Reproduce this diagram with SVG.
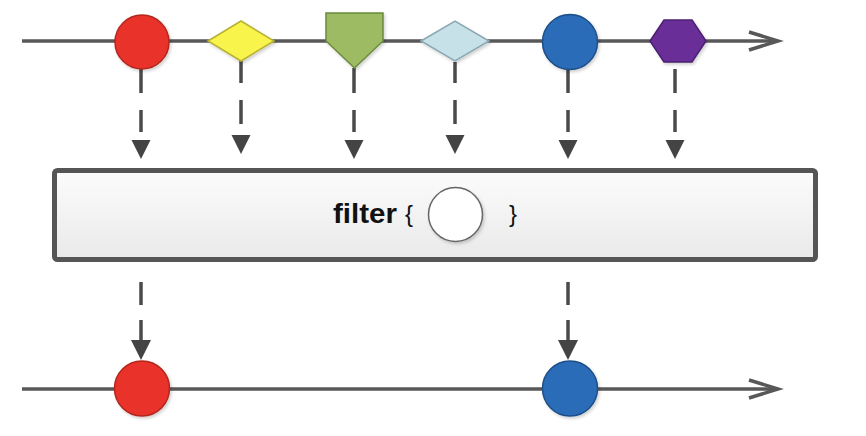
<svg xmlns="http://www.w3.org/2000/svg" width="866" height="436" viewBox="0 0 866 436">
  <defs>
    <linearGradient id="boxFill" x1="0" y1="0" x2="0" y2="1">
      <stop offset="0" stop-color="#fcfcfc"/>
      <stop offset="1" stop-color="#e9e9e9"/>
    </linearGradient>
    <filter id="shadow" x="-20%" y="-20%" width="150%" height="150%">
      <feDropShadow dx="1.5" dy="2" stdDeviation="1.5" flood-color="#000" flood-opacity="0.18"/>
    </filter>
  </defs>
  <style>
    .timeline { stroke: #585858; stroke-width: 3.5; fill: none; }
    .chev { stroke: #585858; stroke-width: 3.5; fill: none; stroke-linejoin: miter; }
    .dash { stroke: #4a4a4a; stroke-width: 3.5; fill: none; }
    .head { fill: #444; }
    .lbl { font-family: "Liberation Sans", Arial, sans-serif; fill: #111; }
  </style>
  <rect width="866" height="436" fill="#ffffff"/>

  <g id="connectors">
    <!-- top timeline -->
    <line class="timeline" x1="22" y1="41" x2="778" y2="41"/>
    <polyline class="chev" points="749,32 778,41 749,50"/>
    <!-- bottom timeline -->
    <line class="timeline" x1="22" y1="389" x2="778" y2="389"/>
    <polyline class="chev" points="749,380 778,389 749,398"/>

    <!-- top dashed arrows -->
    <line class="dash" x1="141" y1="69" x2="141" y2="93"/>
    <line class="dash" x1="141" y1="110" x2="141" y2="132"/>
    <polygon class="head" points="131.5,140 150.5,140 141,159"/>

    <line class="dash" x1="241" y1="61" x2="241" y2="83"/>
    <line class="dash" x1="241" y1="100" x2="241" y2="124"/>
    <polygon class="head" points="231.5,135 250.5,135 241,154"/>

    <line class="dash" x1="354" y1="68" x2="354" y2="93"/>
    <line class="dash" x1="354" y1="110" x2="354" y2="132"/>
    <polygon class="head" points="344.5,140 363.5,140 354,159"/>

    <line class="dash" x1="455" y1="62" x2="455" y2="83"/>
    <line class="dash" x1="455" y1="100" x2="455" y2="124"/>
    <polygon class="head" points="445.5,135 464.5,135 455,154"/>

    <line class="dash" x1="568" y1="70" x2="568" y2="93"/>
    <line class="dash" x1="568" y1="110" x2="568" y2="132"/>
    <polygon class="head" points="558.5,140 577.5,140 568,159"/>

    <line class="dash" x1="675" y1="69" x2="675" y2="93"/>
    <line class="dash" x1="675" y1="110" x2="675" y2="132"/>
    <polygon class="head" points="665.5,140 684.5,140 675,159"/>

    <!-- bottom dashed arrows -->
    <line class="dash" x1="141" y1="282" x2="141" y2="305"/>
    <line class="dash" x1="141" y1="320" x2="141" y2="342"/>
    <polygon class="head" points="131,340 151,340 141,360"/>

    <line class="dash" x1="568" y1="282" x2="568" y2="305"/>
    <line class="dash" x1="568" y1="320" x2="568" y2="342"/>
    <polygon class="head" points="558,340 578,340 568,360"/>
  </g>

  <!-- top row items -->
  <g id="red-top" filter="url(#shadow)">
    <circle cx="142" cy="42" r="27" fill="#e8322b" stroke="#b3271f" stroke-width="1.5"/>
  </g>
  <g id="yellow-diamond" filter="url(#shadow)">
    <polygon points="208,41 241,21 274,41 241,61" fill="#f8f44c" stroke="#b9b232" stroke-width="1.5"/>
  </g>
  <g id="green-pentagon" filter="url(#shadow)">
    <polygon points="326,13 383,13 383,41 354.5,68 326,41" fill="#9dbb62" stroke="#6b8b3c" stroke-width="1.5"/>
  </g>
  <g id="lightblue-diamond" filter="url(#shadow)">
    <polygon points="421,41 455,21 489,41 455,61" fill="#c7e1e9" stroke="#8aa8b2" stroke-width="1.5"/>
  </g>
  <g id="blue-top" filter="url(#shadow)">
    <circle cx="570" cy="42" r="27.5" fill="#2b6cb7" stroke="#1d4f88" stroke-width="1.5"/>
  </g>
  <g id="purple-hexagon" filter="url(#shadow)">
    <polygon points="650,41 664,20 692,20 706,41 692,62 664,62" fill="#6a2f98" stroke="#4b1f70" stroke-width="1.5"/>
  </g>

  <!-- filter operator box -->
  <g id="filter-box">
    <rect x="54.5" y="170.5" width="761" height="89" rx="3" fill="url(#boxFill)" stroke="#555" stroke-width="5"/>
    <text class="lbl" x="333" y="223" font-size="28" font-weight="bold" textLength="64" lengthAdjust="spacingAndGlyphs">filter</text>
    <text class="lbl" x="405" y="222" font-size="24">{</text>
    <g filter="url(#shadow)">
      <circle cx="455.5" cy="214.5" r="27" fill="#ffffff" stroke="#666" stroke-width="1.5"/>
    </g>
    <text class="lbl" x="509" y="222" font-size="24">}</text>
  </g>

  <!-- bottom row items -->
  <g id="red-bottom" filter="url(#shadow)">
    <circle cx="142" cy="388.5" r="27.5" fill="#e8322b" stroke="#b3271f" stroke-width="1.5"/>
  </g>
  <g id="blue-bottom" filter="url(#shadow)">
    <circle cx="570" cy="388.5" r="27.5" fill="#2b6cb7" stroke="#1d4f88" stroke-width="1.5"/>
  </g>
</svg>
